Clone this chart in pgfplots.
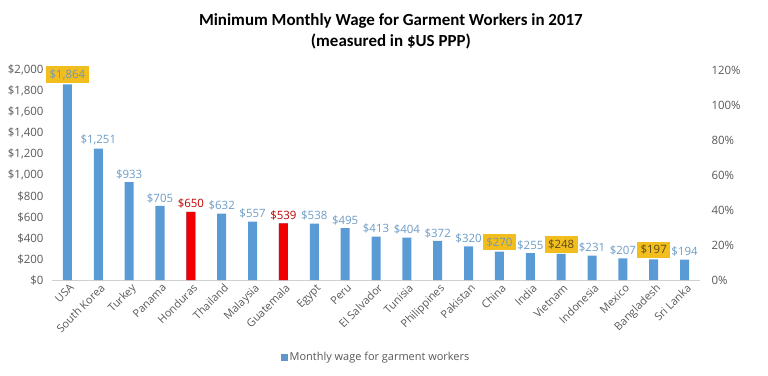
\documentclass[border=0pt]{standalone}
\usepackage{pgfplots}
\pgfplotsset{compat=1.18}
\usepackage{fontspec}
\setmainfont{Open Sans}
\newfontfamily\titlefont{Carlito}
\definecolor{barblue}{HTML}{5B9BD5}
\definecolor{barred}{HTML}{F20000}
\definecolor{lblblue}{HTML}{6C9BC6}
\definecolor{lblred}{HTML}{C00000}
\definecolor{gold}{HTML}{F2BE1E}
\definecolor{txtgray}{HTML}{595959}
\definecolor{darktxt}{HTML}{5A4A1A}
\begin{document}
\begin{tikzpicture}
\useasboundingbox (-52bp,-96bp) rectangle (716bp,280bp);
\begin{axis}[
  at={(0,0)}, anchor=south west,
  scale only axis, width=648bp, height=210bp,
  xmin=-0.5, xmax=20.5, ymin=0, ymax=2000,
  axis x line*=bottom, axis y line*=left,
  y axis line style={draw=none},
  x axis line style={-, draw=black!18},
  major tick length=0pt,
  xtick={0,...,20},
  xticklabels={USA,South Korea,Turkey,Panama,Honduras,Thailand,Malaysia,Guatemala,Egypt,Peru,El Salvador,Tunisia,Philippines,Pakistan,China,India,Vietnam,Indonesia,Mexico,Bangladesh,Sri Lanka},
  xticklabel style={rotate=45, anchor=north east, inner sep=1pt, font=\fontsize{11}{12}\selectfont, text=txtgray, yshift=-2bp},
  ytick={0,200,...,2000},
  scaled y ticks=false,
  yticklabel={\$\pgfmathprintnumber{\tick}},
  yticklabel style={font=\fontsize{11.5}{13}\selectfont, text=txtgray, xshift=-5bp},
  /pgf/number format/.cd, 1000 sep={,}, assume math mode=true, /pgfplots/.cd,
  ybar, bar width=9bp, bar shift=0pt,
  nodes near coords={\$\pgfmathprintnumber{\pgfplotspointmeta}},
  nodes near coords style={font=\fontsize{11.5}{13}\selectfont, text=lblblue, inner sep=2pt, yshift=1bp},
  title={Minimum Monthly Wage for Garment Workers in 2017\\(measured in \$US PPP)},
  title style={font=\titlefont\bfseries\fontsize{17}{21}\selectfont, align=center, at={(axis description cs:0.523,1.155)}, anchor=center},
  legend style={at={(axis description cs:0.50,-0.367)}, anchor=center, draw=none, font=\fontsize{11}{12}\selectfont, text=txtgray},
  legend image code/.code={\fill[barblue!85!gray] (0bp,-3.5bp) rectangle (7bp,3.5bp);},
]
\addplot[fill=barblue, draw=none] coordinates {
 (1,1251) (2,933) (3,705) (5,632) (6,557) (8,538) (9,495) (10,413) (11,404)
 (12,372) (13,320) (15,255) (17,231) (18,207) (20,194)};
\addlegendentry{Monthly wage for garment workers}
\addplot[fill=barblue, draw=none, forget plot, nodes near coords style={text=lblred}] coordinates {
 (4,650) (7,539)};
\addplot[fill=barblue, draw=none, forget plot, nodes near coords style={fill=gold, text=lblblue!80!gray, inner sep=3.5bp}] coordinates {
 (0,1864) (14,270)};
\addplot[fill=barblue, draw=none, forget plot, nodes near coords style={fill=gold, text=darktxt, inner sep=3.5bp}] coordinates {
 (16,248) (19,197)};
\addplot[fill=barred, draw=none, forget plot, nodes near coords={}] coordinates {
 (4,650) (7,539)};
\end{axis}
\begin{axis}[
  at={(0,0)}, anchor=south west,
  scale only axis, width=648bp, height=210bp,
  xmin=-0.5, xmax=20.5, ymin=0, ymax=120,
  hide x axis,
  axis y line*=right,
  y axis line style={draw=none},
  major tick length=0pt,
  ytick={0,20,...,120},
  yticklabel={\pgfmathprintnumber{\tick}\%},
  yticklabel style={font=\fontsize{11.5}{13}\selectfont, text=txtgray, anchor=west, xshift=8bp},
  /pgf/number format/assume math mode=true,
]
\addplot[draw=none] coordinates {(0,0)};
\end{axis}
\end{tikzpicture}
\end{document}
